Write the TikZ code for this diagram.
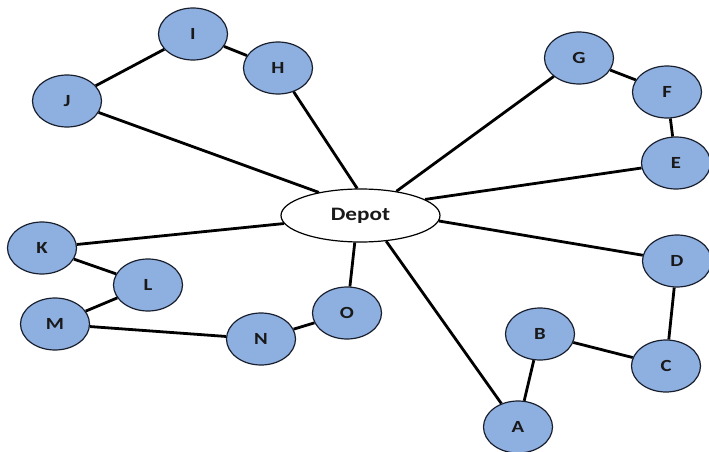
\documentclass[tikz,border=0pt]{standalone}
\usepackage{fontspec}
\setmainfont[FakeStretch=1.22]{Carlito}
\usetikzlibrary{shapes.geometric}
\definecolor{nodeblue}{RGB}{142,176,224}
\definecolor{nodeedge}{RGB}{25,30,45}
\tikzset{
  cust/.style={ellipse, draw=nodeedge, line width=1.2pt, fill=nodeblue,
    minimum width=69pt, minimum height=52pt, inner sep=0pt,
    font=\fontsize{17}{17}\selectfont\bfseries, text=black!90},
  depotbox/.style={ellipse, draw=black, line width=1.2pt, fill=white,
    minimum width=159pt, minimum height=53pt, inner sep=0pt,
    font=\fontsize{19}{19}\selectfont\bfseries, text=black!90},
  route/.style={draw=black, line width=2.8pt}
}
\begin{document}
\begin{tikzpicture}[x=1pt,y=-1pt]
\useasboundingbox (0,0) rectangle (709,452);
\node[depotbox] (depot) at (360.5,215.5) {Depot};
\node[cust] (A) at (518,427) {A};
\node[cust] (B) at (540,334) {B};
\node[cust] (C) at (666,366) {C};
\node[cust] (D) at (677,261) {D};
\node[cust] (E) at (676,163) {E};
\node[cust] (F) at (667,92) {F};
\node[cust] (G) at (579,58) {G};
\node[cust] (H) at (278,68) {H};
\node[cust] (I) at (193,34) {I};
\node[cust] (J) at (67,101) {J};
\node[cust] (K) at (42,248) {K};
\node[cust] (L) at (148,285) {L};
\node[cust] (M) at (55,324) {M};
\node[cust] (N) at (261,339) {N};
\node[cust] (O) at (347,313) {O};
\draw[route] (J) -- (depot.151);
\draw[route] (H) -- (depot.97);
\draw[route] (G) -- (depot.34);
\draw[route] (E) -- (depot.14);
\draw[route] (D) -- (depot.-4);
\draw[route] (A) -- (depot.-45);
\draw[route] (O) -- (depot.-102);
\draw[route] (K) -- (depot.186);
\draw[route] (J) -- (I);
\draw[route] (I) -- (H);
\draw[route] (G) -- (F);
\draw[route] (F) -- (E);
\draw[route] (D) -- (C);
\draw[route] (C) -- (B);
\draw[route] (B) -- (A);
\draw[route] (O) -- (N);
\draw[route] (N) -- (M);
\draw[route] (M) -- (L);
\draw[route] (L) -- (K);
\end{tikzpicture}
\end{document}
